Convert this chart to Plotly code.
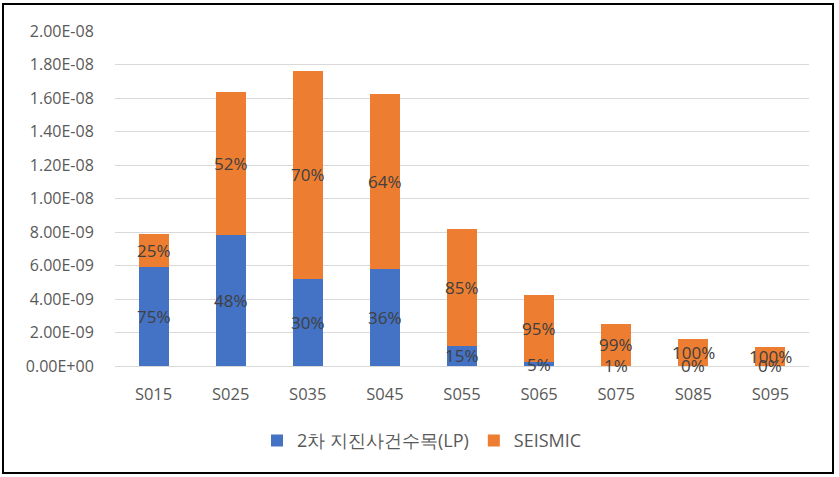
import plotly.graph_objects as go

categories = ["S015", "S025", "S035", "S045", "S055", "S065", "S075", "S085", "S095"]
lp_values = [5.90e-9, 7.82e-9, 5.22e-9, 5.82e-9, 1.20e-9, 0.21e-9, 0.025e-9, 0.005e-9, 0.003e-9]
seismic_values = [1.98e-9, 8.56e-9, 12.39e-9, 10.42e-9, 6.95e-9, 4.03e-9, 2.485e-9, 1.585e-9, 1.117e-9]
lp_labels = ["75%", "48%", "30%", "36%", "15%", "5%", "1%", "0%", "0%"]
seismic_labels = ["25%", "52%", "70%", "64%", "85%", "95%", "99%", "100%", "100%"]
y_ticks = [i * 2e-9 for i in range(11)]
y_tick_text = ["0.00E+00", "2.00E-09", "4.00E-09", "6.00E-09", "8.00E-09", "1.00E-08",
               "1.20E-08", "1.40E-08", "1.60E-08", "1.80E-08", "2.00E-08"]

FONT = "Open Sans"
fig = go.Figure()
fig.add_trace(go.Bar(x=categories, y=lp_values, name="2차 지진사건수목(LP)",
                     marker=dict(color="#4472C4", line=dict(width=0))))
fig.add_trace(go.Bar(x=categories, y=seismic_values, name="SEISMIC",
                     marker=dict(color="#ED7D31", line=dict(width=0))))

for c, lp, se, lt, st in zip(categories, lp_values, seismic_values, lp_labels, seismic_labels):
    fig.add_annotation(x=c, y=lp / 2, text=lt, showarrow=False,
                       font=dict(family=FONT, size=17, color="#404040"))
    fig.add_annotation(x=c, y=lp + se / 2, text=st, showarrow=False,
                       font=dict(family=FONT, size=17, color="#404040"))

# outer frame
fig.add_shape(type="rect", xref="paper", yref="paper",
              x0=-0.1614, x1=1.0346, y0=-0.3194, y1=1.0806,
              line=dict(color="black", width=2), fillcolor="rgba(0,0,0,0)", layer="above")

fig.update_layout(
    barmode="stack",
    bargap=0.61,
    width=839, height=477,
    margin=dict(l=115, r=30, t=31, b=111),
    paper_bgcolor="white", plot_bgcolor="white",
    font=dict(family=FONT, size=15, color="#595959"),
    legend=dict(orientation="h", xref="container", yref="container",
                x=0.503, xanchor="center", y=0.076, yanchor="middle",
                font=dict(family=FONT, size=18, color="#595959"),
                itemwidth=30, traceorder="normal"),
    xaxis=dict(showgrid=False, showline=False, ticks="", ticklabelstandoff=16,
               tickfont=dict(family=FONT, size=16.5, color="#595959")),
    yaxis=dict(range=[0, 2e-8], tickvals=y_ticks, ticktext=y_tick_text,
               showgrid=True, gridcolor="#D9D9D9", gridwidth=1, zeroline=True,
               zerolinecolor="#D9D9D9", zerolinewidth=1, showline=False,
               ticks="outside", ticklen=17, tickcolor="rgba(0,0,0,0)",
               tickfont=dict(family=FONT, size=16, color="#595959")),
)

fig.write_html("out.html", config={"displayModeBar": False},
               post_script="document.body.style.margin='0';")
